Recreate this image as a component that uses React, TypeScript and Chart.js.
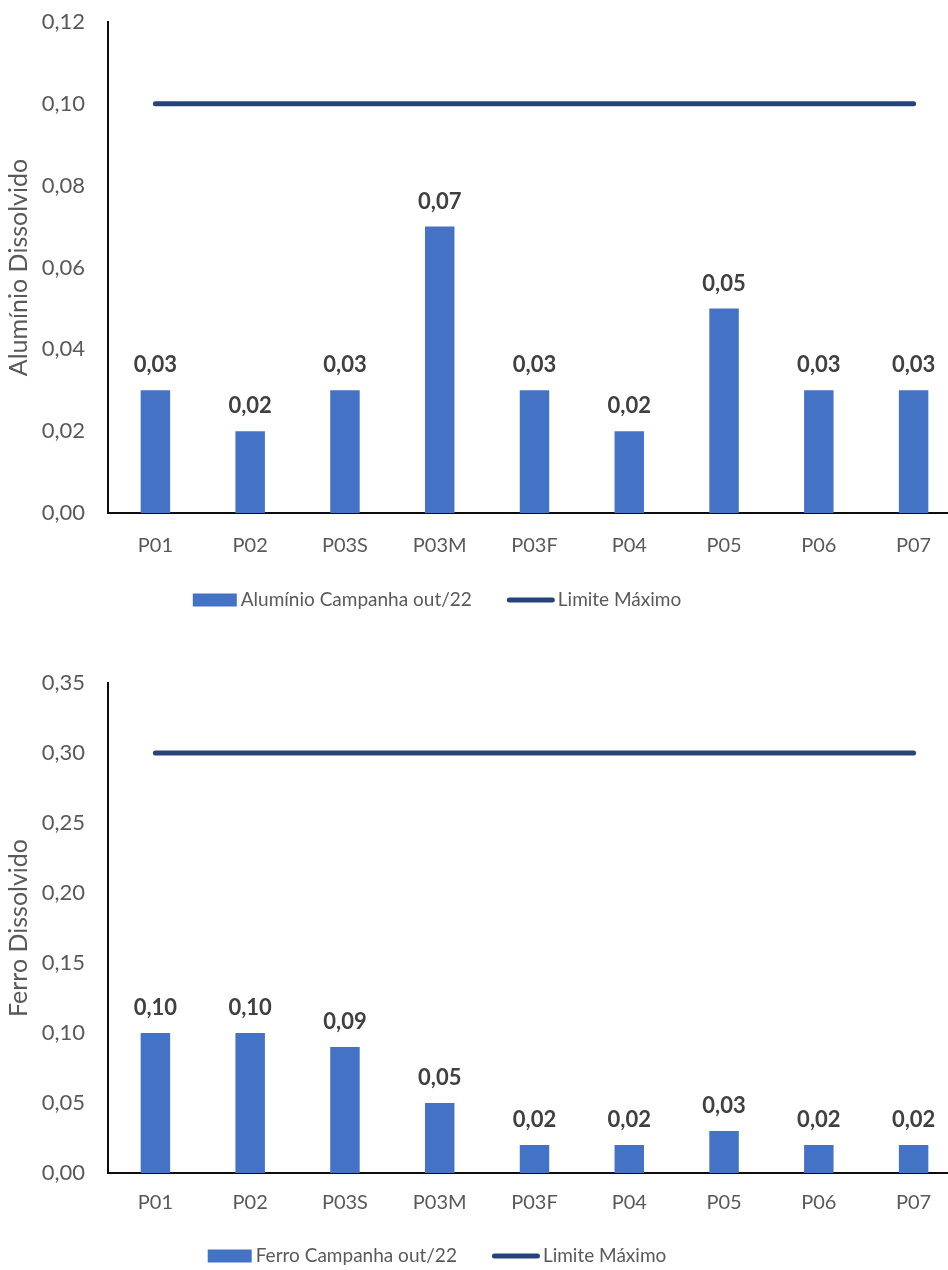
import React, { useEffect, useRef } from "react";
import { Chart, registerables } from "chart.js";

Chart.register(...registerables);

// Sampling points
const categories = ["P01", "P02", "P03S", "P03M", "P03F", "P04", "P05", "P06", "P07"];

// Dissolved aluminium, campaign out/22
const aluminioValues = [0.03, 0.02, 0.03, 0.07, 0.03, 0.02, 0.05, 0.03, 0.03];
const aluminioLimit = [0.1, 0.1, 0.1, 0.1, 0.1, 0.1, 0.1, 0.1, 0.1];
const aluminioTicks = [0, 0.02, 0.04, 0.06, 0.08, 0.1, 0.12];

// Dissolved iron, campaign out/22
const ferroValues = [0.1, 0.1, 0.09, 0.05, 0.02, 0.02, 0.03, 0.02, 0.02];
const ferroLimit = [0.3, 0.3, 0.3, 0.3, 0.3, 0.3, 0.3, 0.3, 0.3];
const ferroTicks = [0, 0.05, 0.1, 0.15, 0.2, 0.25, 0.3, 0.35];

const FONT = "Lato, 'Noto Sans', sans-serif";
const TEXT = "#595959";
const BAR = "#4472C4";
const LINE = "#264478";
const CANVAS_W = 980;

const fmt = (v: number) => Number(v).toFixed(2).replace(".", ",");

const valueLabels = {
  id: "valueLabels",
  afterDatasetsDraw(chart: any) {
    const ctx = chart.ctx;
    const meta = chart.getDatasetMeta(0);
    const data = chart.data.datasets[0].data as number[];
    ctx.save();
    ctx.font = `bold 22px ${FONT}`;
    ctx.fillStyle = "#404040";
    ctx.textAlign = "center";
    ctx.textBaseline = "middle";
    meta.data.forEach((el: any, i: number) => {
      ctx.fillText(fmt(data[i]), el.x, el.y - 25);
    });
    ctx.restore();
  },
};

function legendPlugin(y: number, centerX: number) {
  return {
    id: "customLegend",
    afterDraw(chart: any) {
      const ctx = chart.ctx;
      const ds = chart.data.datasets;
      ctx.save();
      ctx.font = `19px ${FONT}`;
      ctx.textBaseline = "middle";
      ctx.textAlign = "left";
      const barText = ds[0].label as string;
      const lineText = ds[1].label as string;
      const wBar = ctx.measureText(barText).width;
      const wLine = ctx.measureText(lineText).width;
      const total = 44 + 4 + wBar + 35 + 48 + 3 + wLine;
      let x = centerX - total / 2;
      ctx.fillStyle = BAR;
      ctx.fillRect(x, y - 6.5, 44, 13);
      x += 48;
      ctx.fillStyle = TEXT;
      ctx.fillText(barText, x, y);
      x += wBar + 35;
      ctx.strokeStyle = LINE;
      ctx.lineWidth = 5;
      ctx.lineCap = "round";
      ctx.beginPath();
      ctx.moveTo(x + 2.5, y);
      ctx.lineTo(x + 48 - 2.5, y);
      ctx.stroke();
      x += 51;
      ctx.fillText(lineText, x, y);
      ctx.restore();
    },
  };
}

type Spec = {
  values: number[];
  limit: number[];
  ticks: number[];
  yTitle: string;
  barLabel: string;
  padTop: number;
  padBottom: number;
  xLabelPad: number;
  legendY: number;
};

function makeChart(canvas: HTMLCanvasElement, s: Spec) {
  return new Chart(canvas, {
    type: "bar",
    data: {
      labels: categories,
      datasets: [
        {
          type: "bar",
          label: s.barLabel,
          data: s.values,
          backgroundColor: BAR,
          barPercentage: 0.311,
          categoryPercentage: 1,
          order: 2,
        } as any,
        {
          type: "line",
          label: "Limite Máximo",
          data: s.limit,
          borderColor: LINE,
          backgroundColor: LINE,
          borderWidth: 5,
          borderCapStyle: "round",
          pointRadius: 0,
          order: 1,
        } as any,
      ],
    },
    options: {
      responsive: false,
      animation: false,
      layout: { padding: { top: s.padTop, right: CANVAS_W - 961, bottom: s.padBottom, left: 0 } },
      plugins: { legend: { display: false }, tooltip: { enabled: false } },
      scales: {
        x: {
          grid: { display: false, drawTicks: false },
          border: { display: true, color: "#0d0d0d", width: 2 },
          ticks: { color: TEXT, font: { family: FONT, size: 20 }, padding: s.xLabelPad, maxRotation: 0 },
          afterFit: (scale: any) => {
            scale.height = 50;
          },
        },
        y: {
          min: 0,
          max: s.ticks[s.ticks.length - 1],
          grid: { display: false, drawTicks: false },
          border: { display: true, color: "#0d0d0d", width: 2 },
          ticks: {
            color: TEXT,
            font: { family: FONT, size: 22 },
            padding: 23,
            callback: (v: any) => fmt(v),
          },
          afterBuildTicks: (scale: any) => {
            scale.ticks = s.ticks.map((v) => ({ value: v }));
          },
          afterFit: (scale: any) => {
            scale.width = 108;
            scale.paddingTop = 0;
            scale.paddingBottom = 0;
          },
          title: {
            display: true,
            text: s.yTitle,
            color: TEXT,
            font: { family: FONT, size: 25 },
            padding: { top: 4, bottom: 0 },
          },
        },
      },
    } as any,
    plugins: [valueLabels, legendPlugin(s.legendY, 437)],
  });
}

export default function App() {
  const topRef = useRef<HTMLCanvasElement>(null);
  const bottomRef = useRef<HTMLCanvasElement>(null);

  useEffect(() => {
    const c1 = makeChart(topRef.current!, {
      values: aluminioValues,
      limit: aluminioLimit,
      ticks: aluminioTicks,
      yTitle: "Alumínio Dissolvido",
      barLabel: "Alumínio Campanha out/22",
      padTop: 22,
      padBottom: 640 - 513 - 50,
      xLabelPad: 21,
      legendY: 600,
    });
    const c2 = makeChart(bottomRef.current!, {
      values: ferroValues,
      limit: ferroLimit,
      ticks: ferroTicks,
      yTitle: "Ferro Dissolvido",
      barLabel: "Ferro Campanha out/22",
      padTop: 43,
      padBottom: 630 - 533 - 50,
      xLabelPad: 18,
      legendY: 616,
    });
    return () => {
      c1.destroy();
      c2.destroy();
    };
  }, []);

  return (
    <div
      style={{
        position: "fixed",
        left: 0,
        top: 0,
        width: 948,
        height: 1270,
        overflow: "hidden",
        background: "#ffffff",
      }}
    >
      <canvas
        ref={topRef}
        width={CANVAS_W}
        height={640}
        style={{ position: "absolute", left: 0, top: 0 }}
      />
      <canvas
        ref={bottomRef}
        width={CANVAS_W}
        height={630}
        style={{ position: "absolute", left: 0, top: 640 }}
      />
    </div>
  );
}
